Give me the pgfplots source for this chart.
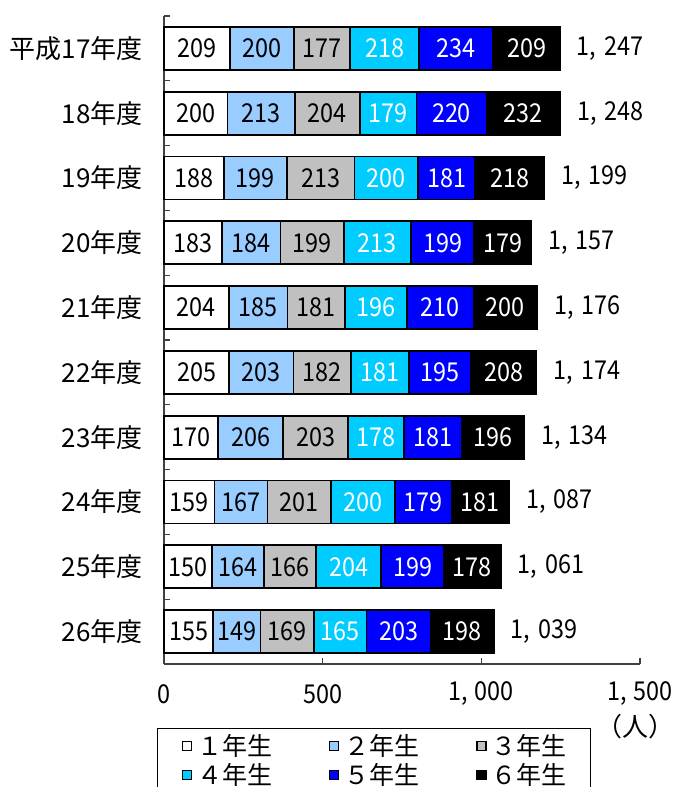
\documentclass[border=0pt]{standalone}
\usepackage{pgfplots}
\pgfplotsset{compat=1.18}
\usepackage{pgfplotstable}
\usepackage{fontspec}
\setmainfont{Noto Sans CJK JP}
\newfontfamily\numfont{Noto Sans CJK JP}[FakeStretch=0.9]

\definecolor{g2}{HTML}{99CCFF}
\definecolor{g3}{HTML}{C0C0C0}
\definecolor{g4}{HTML}{00CCFF}
\definecolor{g5}{HTML}{0000FF}

% y: 10 = 平成17年度 (top) ... 1 = 26年度 (bottom)
\pgfplotstableread{
y a b c d e f tot
10 209 200 177 218 234 209 1247
9 200 213 204 179 220 232 1248
8 188 199 213 200 181 218 1199
7 183 184 199 213 199 179 1157
6 204 185 181 196 210 200 1176
5 205 203 182 181 195 208 1174
4 170 206 203 178 181 196 1134
3 159 167 201 200 179 181 1087
2 150 164 166 204 199 178 1061
1 155 149 169 165 203 198 1039
}\data

\pgfplotsset{
  sqleg/.style={legend image code/.code={\draw[##1, line width=1.3pt] (0pt,-4.5pt) rectangle (9pt,4.5pt);}},
  frame/.style={
    at={(164pt,-664pt)}, anchor=south west,
    scale only axis, width=476pt, height=648pt,
    xmin=0, xmax=1500, ymin=0.5, ymax=10.5, clip=false},
}

% one stacked segment, its value centred in it
\newcommand{\seg}[3]{%
  \addplot[fill=#2, draw=black, line width=1.8pt, sqleg,
    nodes near coords, point meta=explicit,
    nodes near coords style={text=#3, anchor=center, inner sep=0pt}]
    table[x=#1, y=y, meta=#1]{\data};}

\begin{document}
\begin{tikzpicture}
\begin{axis}[
  frame,
  xbar stacked, bar width=43pt,
  axis lines*=left,
  axis line style={-, line width=1.3pt, black!75},
  tick style={line width=1.3pt, black!75},
  tick align=inside, major tick length=6pt,
  xtick pos=left, ytick pos=left,
  xtick={0,500,1000,1500},
  xticklabels={0,500,{1,\hspace{0.25em}000},{1,\hspace{0.25em}500}},
  ytick={0.5,1.5,...,10.5}, yticklabels={},
  extra y ticks={1,...,10},
  extra y tick labels={26年度,25年度,24年度,23年度,22年度,21年度,20年度,19年度,18年度,平成17年度},
  extra y tick style={tick style={draw=none}},
  yticklabel style={font=\fontsize{26}{30}\selectfont, inner sep=0pt, xshift=-21pt},
  xticklabel style={font=\numfont\fontsize{26}{30}\selectfont, inner sep=0pt, anchor=center, yshift=-30pt},
  nodes near coords style={font=\numfont\fontsize{26}{30}\selectfont},
  /pgf/number format/.cd, assume math mode=true,
  /pgfplots/.cd,
  legend columns=3,
  legend cell align=left,
  legend style={
    at={(axis description cs:-0.0143,-0.0992)}, anchor=north west,
    draw=black, line width=1.2pt,
    font=\fontsize{25}{25}\selectfont,
    inner xsep=24pt, inner ysep=6pt,
    row sep=6pt,
    nodes={inner sep=0pt},
    /tikz/every even column/.append style={column sep=57pt},
  },
]
\seg{a}{white}{black}
\seg{b}{g2}{black}
\seg{c}{g3}{black}
\seg{d}{g4}{white}
\seg{e}{g5}{white}
\seg{f}{black}{white}
\legend{\hspace{5pt}１年生,\hspace{5pt}２年生,\hspace{5pt}３年生,\hspace{5pt}４年生,\hspace{5pt}５年生,\hspace{5pt}６年生\hspace{10pt}}
\node[font=\fontsize{26}{30}\selectfont, inner sep=0pt] at ([xshift=-5pt, yshift=-63pt]axis description cs:1,0) {（人）};
\end{axis}
% totals at the end of each bar
\begin{axis}[frame, hide axis,
  /pgf/number format/.cd, assume math mode=true, 1000 sep={,\hspace{0.3em}},
  /pgfplots/.cd]
\addplot[only marks, mark=none, nodes near coords, point meta=explicit,
  nodes near coords style={font=\numfont\fontsize{26}{30}\selectfont, text=black, anchor=west, inner sep=0pt, xshift=17pt}]
  table[x=tot, y=y, meta=tot]{\data};
\end{axis}
\pgfresetboundingbox
\useasboundingbox (0,0) rectangle (674pt,-787pt);
\end{tikzpicture}
\end{document}
